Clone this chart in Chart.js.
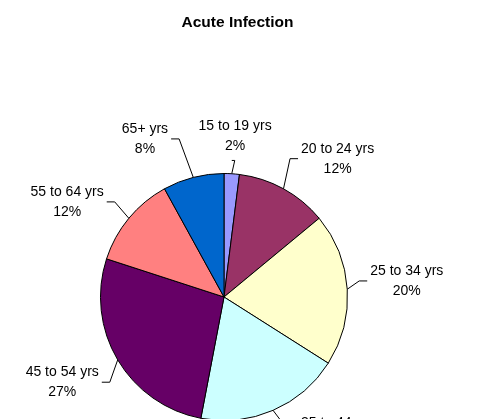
<!DOCTYPE html>
<html>
<head>
<meta charset="utf-8">
<script src="https://cdn.jsdelivr.net/npm/chart.js@4"></script>
<style>
  html, body { margin: 0; padding: 0; background: #fff; overflow: hidden; }
  #wrap { position: relative; width: 479px; height: 440px; }
</style>
</head>
<body>
<div id="wrap"><canvas id="pieChart"></canvas></div>
<script>
// data
const chartTitle = 'Acute Infection';
const categories = ['15 to 19 yrs', '20 to 24 yrs', '25 to 34 yrs', '35 to 44 yrs', '45 to 54 yrs', '55 to 64 yrs', '65+ yrs'];
const percentages = [2, 12, 20, 19, 27, 12, 8];
const sliceColors = ['#9999FF', '#993366', '#FFFFCC', '#CCFFFF', '#660066', '#FF8080', '#0066CC'];

const FONT = '"Liberation Sans", Arial, sans-serif';

// title sits centred on the whole canvas, not over the pie
const pageTitle = {
    id: 'pageTitle',
    afterDraw(chart, args, opts) {
        const ctx = chart.ctx;
        ctx.save();
        ctx.font = 'bold 15.5px ' + FONT;
        ctx.fillStyle = '#000';
        ctx.textAlign = 'center';
        ctx.textBaseline = 'middle';
        ctx.fillText(opts.text, chart.width / 2 - 2, 23);
        ctx.restore();
    }
};

// labels with leader lines, excel style
const outsideLabels = {
    id: 'outsideLabels',
    afterDatasetsDraw(chart, args, opts) {
        const ctx = chart.ctx;
        const meta = chart.getDatasetMeta(0);
        const values = chart.data.datasets[0].data;
        ctx.save();
        ctx.font = '14px ' + FONT;
        ctx.fillStyle = '#000';
        ctx.strokeStyle = '#000';
        ctx.lineWidth = 1;
        ctx.textAlign = 'center';
        ctx.textBaseline = 'middle';
        meta.data.forEach((arc, i) => {
            const p = arc.getProps(['x', 'y', 'startAngle', 'endAngle', 'outerRadius'], true);
            const mid = (p.startAngle + p.endAngle) / 2;
            const sx = p.x + Math.cos(mid) * p.outerRadius;
            const sy = p.y + Math.sin(mid) * p.outerRadius;
            const lx = p.x + opts.offsets[i][0] * p.outerRadius;
            const ly = p.y + opts.offsets[i][1] * p.outerRadius;
            const line1 = chart.data.labels[i];
            const line2 = values[i] + '%';
            const w = Math.max(ctx.measureText(line1).width, ctx.measureText(line2).width);

            ctx.beginPath();
            ctx.moveTo(sx, sy);
            if (Math.abs(lx - sx) < w / 2) {
                ctx.lineTo(sx + 3, ly + 24);
                ctx.lineTo(sx, ly + 24);
            } else if (lx > sx) {
                const ex = lx - w / 2 - 3;
                ctx.lineTo(ex - 8, ly);
                ctx.lineTo(ex, ly);
            } else {
                const ex = lx + w / 2 + 3;
                ctx.lineTo(ex + 8, ly);
                ctx.lineTo(ex, ly);
            }
            ctx.stroke();

            ctx.fillText(line1, lx, ly - 10);
            ctx.fillText(line2, lx, ly + 10);
        });
        ctx.restore();
    }
};

new Chart(document.getElementById('pieChart'), {
    type: 'pie',
    data: {
        labels: categories,
        datasets: [{
            data: percentages,
            backgroundColor: sliceColors,
            borderColor: '#000',
            borderWidth: 1
        }]
    },
    options: {
        responsive: true,
        maintainAspectRatio: false,
        animation: false,
        layout: { padding: { left: 100, right: 131, top: 173, bottom: 19 } },
        plugins: {
            legend: { display: false },
            tooltip: { enabled: false },
            title: { display: false },
            pageTitle: { text: chartTitle },
            outsideLabels: {
                offsets: [[0.09, -1.30], [0.92, -1.12], [1.48, -0.13], [0.92, 1.10], [-1.31, 0.69], [-1.27, -0.77], [-0.64, -1.28]]
            }
        }
    },
    plugins: [outsideLabels, pageTitle]
});
</script>
</body>
</html>
